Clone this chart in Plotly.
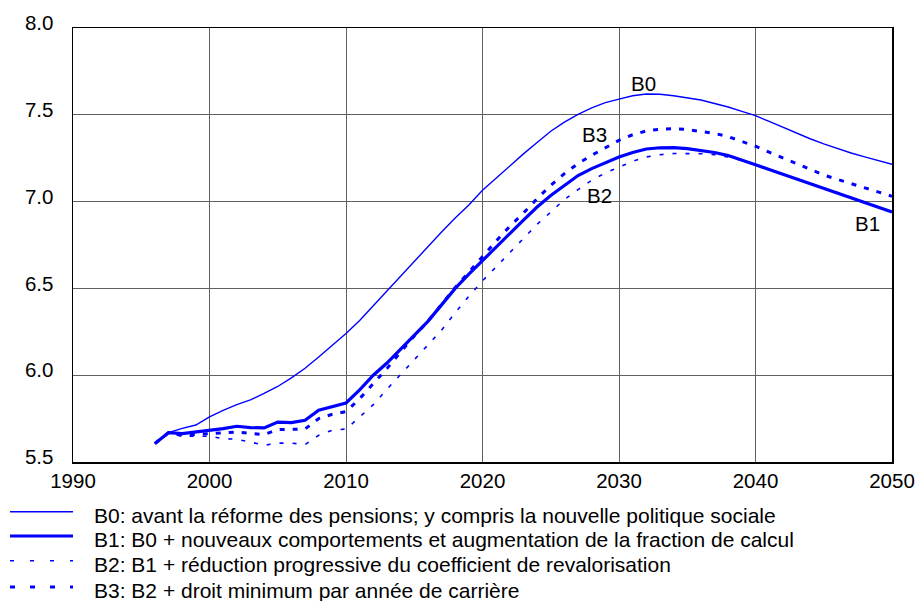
import plotly.graph_objects as go

years = list(range(1996, 2051))

b0 = [5.606, 5.669, 5.694, 5.713, 5.760, 5.798, 5.830, 5.858, 5.895, 5.935,
      5.985, 6.040, 6.105, 6.170, 6.240, 6.315, 6.400, 6.485, 6.575, 6.660,
      6.740, 6.825, 6.905, 6.980, 7.065, 7.135, 7.210, 7.275, 7.340, 7.405,
      7.458, 7.503, 7.540, 7.570, 7.590, 7.610, 7.620, 7.618, 7.610, 7.598,
      7.585, 7.565, 7.545, 7.520, 7.495, 7.462, 7.428, 7.395, 7.362, 7.332,
      7.305, 7.280, 7.258, 7.236, 7.215]

b1 = [5.606, 5.669, 5.664, 5.672, 5.683, 5.692, 5.706, 5.698, 5.696, 5.730,
      5.727, 5.740, 5.798, 5.821, 5.840, 5.915, 6.000, 6.070, 6.150, 6.230,
      6.310, 6.405, 6.500, 6.582, 6.662, 6.740, 6.816, 6.893, 6.969, 7.035,
      7.094, 7.150, 7.190, 7.225, 7.257, 7.283, 7.303, 7.310, 7.311, 7.305,
      7.296, 7.283, 7.265, 7.240, 7.212, 7.185, 7.158, 7.131, 7.105, 7.079,
      7.052, 7.025, 6.998, 6.969, 6.940]

b2 = [5.606, 5.669, 5.648, 5.648, 5.648, 5.635, 5.631, 5.615, 5.596, 5.609,
      5.609, 5.600, 5.654, 5.683, 5.690, 5.759, 5.830, 5.919, 6.005, 6.092,
      6.172, 6.259, 6.360, 6.455, 6.543, 6.623, 6.706, 6.787, 6.869, 6.940,
      7.012, 7.069, 7.123, 7.165, 7.199, 7.232, 7.257, 7.270, 7.277, 7.278,
      7.276, 7.270, 7.257, 7.238, 7.212, 7.185, 7.158, 7.131, 7.105, 7.079,
      7.052, 7.025, 6.998, 6.969, 6.940]

b3 = [5.606, 5.669, 5.654, 5.659, 5.664, 5.668, 5.673, 5.664, 5.658, 5.687,
      5.687, 5.690, 5.750, 5.775, 5.790, 5.865, 5.952, 6.038, 6.134, 6.226,
      6.310, 6.410, 6.505, 6.594, 6.685, 6.773, 6.858, 6.934, 7.017, 7.094,
      7.161, 7.219, 7.267, 7.312, 7.353, 7.385, 7.407, 7.417, 7.420, 7.415,
      7.405, 7.393, 7.374, 7.348, 7.319, 7.285, 7.251, 7.218, 7.185, 7.153,
      7.128, 7.104, 7.080, 7.055, 7.031]

names = ["B0", "B1", "B2", "B3"]
legend_texts = [
    "B0: avant la réforme des pensions; y compris la nouvelle politique sociale",
    "B1: B0 + nouveaux comportements et augmentation de la fraction de calcul",
    "B2: B1 + réduction progressive du coefficient de revalorisation",
    "B3: B2 + droit minimum par année de carrière",
]
series = [b0, b1, b2, b3]

x_ticks = [1990, 2000, 2010, 2020, 2030, 2040, 2050]
y_ticks = [5.5, 6.0, 6.5, 7.0, 7.5, 8.0]

BLUE = "#0000ff"
FONT = "Liberation Sans, Arial, sans-serif"
styles = [
    dict(width=1.4, dash="solid"),
    dict(width=3.2, dash="solid"),
    dict(width=1.6, dash="4px,9px"),
    dict(width=3.0, dash="5px,8px"),
]
legend_dash = ["solid", "solid", "4px,16px", "5px,15px"]

# curve labels (anchor positions in data units)
label_pos = {"B0": (2031.8, 7.68), "B3": (2028.2, 7.388),
             "B2": (2028.6, 7.036), "B1": (2048.2, 6.873)}

fig = go.Figure()
for name, vals, st in zip(names, series, styles):
    fig.add_trace(go.Scatter(x=years, y=vals, mode="lines", name=name,
                             line=dict(color=BLUE, width=st["width"], dash=st["dash"]),
                             showlegend=False))

annotations = []
for name in names:
    lx, ly = label_pos[name]
    annotations.append(dict(x=lx, y=ly, xref="x", yref="y", text=name, showarrow=False,
                            font=dict(family=FONT, size=20.5, color="black")))

# custom legend beneath the plot
row_y = [-0.1145, -0.1705, -0.2274, -0.288]
shapes = []
for i, (txt, st) in enumerate(zip(legend_texts, styles)):
    shapes.append(dict(type="line", xref="paper", yref="paper",
                       x0=-0.0769, x1=0.0, y0=row_y[i], y1=row_y[i],
                       line=dict(color=BLUE, width=st["width"], dash=legend_dash[i])))
    annotations.append(dict(x=0.0232, y=row_y[i], xref="paper", yref="paper", text=txt,
                            showarrow=False, xanchor="left", yanchor="middle", yshift=-4,
                            font=dict(family=FONT, size=21, color="black")))

fig.update_layout(
    width=916, height=601,
    margin=dict(l=73, r=24, t=28, b=139, autoexpand=False),
    paper_bgcolor="white", plot_bgcolor="white",
    font=dict(family=FONT, size=20.5, color="black"),
    shapes=shapes, annotations=annotations,
    xaxis=dict(range=[1990, 2050], tickvals=x_ticks, ticktext=[str(v) for v in x_ticks],
               showgrid=True, gridcolor="#606060", gridwidth=1,
               showline=True, linecolor="black", linewidth=1.5, mirror=True,
               ticks="", zeroline=False, ticklabelstandoff=0, automargin=False),
    yaxis=dict(range=[5.5, 8.0], tickvals=y_ticks, ticktext=[f"{v:.1f}" for v in y_ticks],
               showgrid=True, gridcolor="#606060", gridwidth=1,
               showline=True, linecolor="black", linewidth=1.5, mirror=True,
               ticks="", zeroline=False, ticklabelstandoff=14, ticklabelshift=-5,
               automargin=False),
)

fig.write_html(
    "out.html",
    config={"displayModeBar": False, "staticPlot": True},
    post_script="document.body.style.margin='0';document.body.style.overflow='hidden';",
)
